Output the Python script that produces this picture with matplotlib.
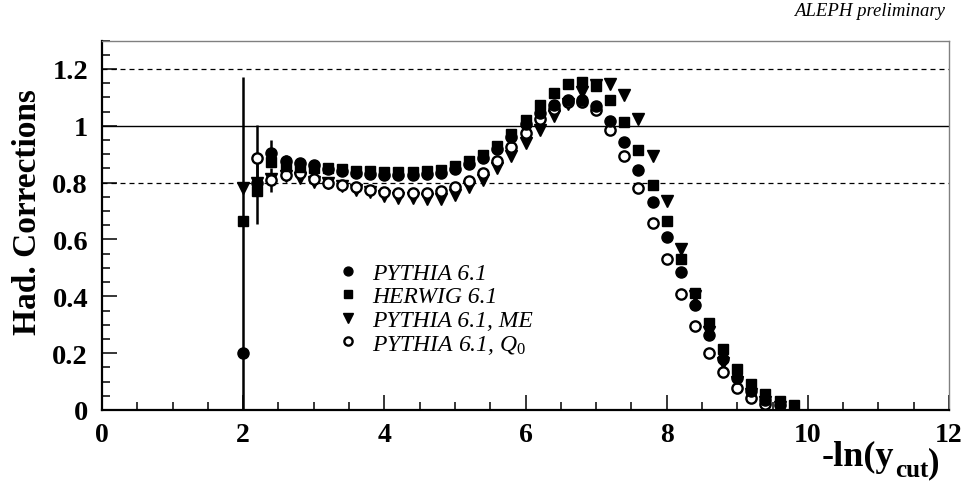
import numpy as np
import matplotlib
matplotlib.use('Agg')
import matplotlib.pyplot as plt
from matplotlib.ticker import MultipleLocator, FixedLocator, FixedFormatter

plt.rcParams['font.family'] = ['Liberation Serif', 'DejaVu Serif']
plt.rcParams['mathtext.fontset'] = 'custom'
plt.rcParams['mathtext.rm'] = 'Liberation Serif'
plt.rcParams['mathtext.it'] = 'Liberation Serif:italic'
plt.rcParams['mathtext.bf'] = 'Liberation Serif:bold'

nan = np.nan
# -ln(y_cut) bin positions
x_vals = [2.0, 2.2, 2.4, 2.6, 2.8, 3.0, 3.2, 3.4, 3.6, 3.8,
          4.0, 4.2, 4.4, 4.6, 4.8, 5.0, 5.2, 5.4, 5.6, 5.8,
          6.0, 6.2, 6.4, 6.6, 6.8, 7.0, 7.2, 7.4, 7.6, 7.8,
          8.0, 8.2, 8.4, 8.6, 8.8, 9.0, 9.2, 9.4, 9.6, 9.8]

pythia = [0.200, 0.800, 0.904, 0.877, 0.869, 0.862, 0.848, 0.840, 0.834, 0.831,
          0.828, 0.828, 0.828, 0.832, 0.834, 0.848, 0.866, 0.888, 0.920, 0.962,
          1.005, 1.045, 1.074, 1.089, 1.089, 1.068, 1.018, 0.942, 0.846, 0.731,
          0.609, 0.485, 0.369, 0.263, 0.179, 0.113, 0.068, 0.036, 0.018, nan]
pythia_err = [0.97, nan, 0.045, 0.02, nan, nan, nan, nan, nan, nan,
              nan, nan, nan, nan, nan, nan, nan, nan, nan, nan,
              nan, nan, nan, nan, nan, nan, nan, nan, nan, nan,
              nan, nan, nan, nan, nan, nan, nan, nan, nan, nan]

herwig = [0.666, 0.770, 0.874, 0.857, 0.854, 0.850, 0.853, 0.848, 0.842, 0.840,
          0.837, 0.836, 0.837, 0.840, 0.843, 0.857, 0.875, 0.898, 0.930, 0.972,
          1.019, 1.074, 1.115, 1.146, 1.154, 1.140, 1.091, 1.015, 0.916, 0.793,
          0.664, 0.532, 0.413, 0.305, 0.216, 0.145, 0.092, 0.055, 0.030, 0.018]
herwig_err = [nan, 0.115, nan, nan, nan, nan, nan, nan, nan, nan,
              nan, nan, nan, nan, nan, nan, nan, nan, nan, nan,
              nan, nan, nan, nan, nan, nan, nan, nan, nan, nan,
              nan, nan, nan, nan, nan, nan, nan, nan, nan, nan]

pythia_me = [0.780, 0.800, 0.812, 0.822, 0.815, 0.803, 0.797, 0.788, 0.775, 0.766,
             0.752, 0.747, 0.746, 0.742, 0.742, 0.758, 0.784, 0.810, 0.851, 0.892,
             0.939, 0.986, 1.033, 1.078, 1.120, 1.145, 1.147, 1.109, 1.025, 0.895,
             0.736, 0.565, 0.400, 0.275, 0.165, 0.100, 0.055, 0.028, 0.012, nan]

pythia_q0 = [nan, 0.886, 0.810, 0.828, 0.834, 0.814, 0.800, 0.792, 0.783, 0.775,
             0.767, 0.763, 0.765, 0.764, 0.772, 0.784, 0.805, 0.834, 0.875, 0.925,
             0.974, 1.023, 1.060, 1.085, 1.082, 1.054, 0.986, 0.892, 0.781, 0.659,
             0.533, 0.407, 0.294, 0.200, 0.132, 0.078, 0.043, 0.021, nan, nan]
pythia_q0_err = [nan, 0.118, 0.043, nan, nan, nan, nan, nan, nan, nan,
                 nan, nan, nan, nan, nan, nan, nan, nan, nan, nan,
                 nan, nan, nan, nan, nan, nan, nan, nan, nan, nan,
                 nan, nan, nan, nan, nan, nan, nan, nan, nan, nan]

labels = ['PYTHIA 6.1', 'HERWIG 6.1', 'PYTHIA 6.1, ME', r'PYTHIA 6.1, $Q_{\mathit{0}}$']
ref_lines_dashed = [0.8, 1.2]
ref_line_solid = 1.0
xtick_vals = [0, 2, 4, 6, 8, 10, 12]
xtick_labels = ['0', '2', '4', '6', '8', '10', '12']
ytick_vals = [0, 0.2, 0.4, 0.6, 0.8, 1.0, 1.2]
ytick_labels = ['0', '0.2', '0.4', '0.6', '0.8', '1', '1.2']

W, H = 965, 485
fig = plt.figure(figsize=(W / 100, H / 100), dpi=100)
ax = fig.add_axes([102 / W, 74 / H, 847 / W, 369.5 / H])
ax.set_xlim(0, 12)
ax.set_ylim(0, 1.3)

# reference lines
ax.axhline(ref_line_solid, color='black', lw=1.0, zorder=1)
for yv in ref_lines_dashed:
    ax.axhline(yv, color='black', lw=0.9, ls=(0, (4.0, 3.2)), zorder=1)

xa = np.array(x_vals)
# error bars
for yv, ev in [(pythia, pythia_err), (herwig, herwig_err), (pythia_q0, pythia_q0_err)]:
    ax.errorbar(xa, yv, yerr=ev, fmt='none', ecolor='black', elinewidth=1.8,
                capsize=0, zorder=2)

h_me, = ax.plot(xa, pythia_me, ls='none', marker='v', ms=8.2, color='black',
                mec='black', zorder=3)
h_q0, = ax.plot(xa, pythia_q0, ls='none', marker='o', ms=7.4, mfc='white',
                mec='black', mew=1.7, zorder=4)
h_hw, = ax.plot(xa, herwig, ls='none', marker='s', ms=7.0, color='black', zorder=5)
h_py, = ax.plot(xa, pythia, ls='none', marker='o', ms=8.0, color='black', zorder=6)

leg = ax.legend([h_py, h_hw, h_me, h_q0], labels, loc='center left',
                bbox_to_anchor=(0.277, 0.273), frameon=False,
                prop={'family': 'Liberation Serif', 'style': 'italic', 'size': 17},
                handlelength=1.0, handletextpad=0.5, labelspacing=0.08,
                borderpad=0.0, borderaxespad=0.0, markerscale=0.8)

# ticks
ax.xaxis.set_major_locator(FixedLocator(xtick_vals))
ax.xaxis.set_major_formatter(FixedFormatter(xtick_labels))
ax.xaxis.set_minor_locator(MultipleLocator(0.5))
ax.yaxis.set_major_locator(FixedLocator(ytick_vals))
ax.yaxis.set_major_formatter(FixedFormatter(ytick_labels))
ax.yaxis.set_minor_locator(MultipleLocator(0.05))
ax.tick_params(which='both', direction='in', top=False, right=False, color='black')
ax.tick_params(which='major', length=10.5, width=1.1)
ax.tick_params(which='minor', length=5.5, width=1.1)
ax.tick_params(axis='x', which='major', pad=8.5, labelsize=20)
ax.tick_params(axis='y', which='major', pad=10, labelsize=20.5)
for lab in ax.get_xticklabels() + ax.get_yticklabels():
    lab.set_fontweight('bold')

for side in ['left', 'bottom']:
    ax.spines[side].set_linewidth(1.6)
    ax.spines[side].set_color('black')
for side in ['top', 'right']:
    ax.spines[side].set_linewidth(1.0)
    ax.spines[side].set_color('#808080')

fig.text(28 / W, 1 - 212 / H, 'Had. Corrections', rotation=90, ha='center',
         va='center', fontsize=24, fontweight='bold')
fig.text(945 / W, 1 - 12 / H, 'ALEPH preliminary', ha='right', va='center',
         fontsize=13.5, style='italic')

# x-axis title  -ln(y_cut)  built from three pieces
t1 = fig.text(822 / W, 1 - 466 / H, '-ln(y', ha='left', va='baseline',
              fontsize=26, fontweight='bold')
fig.canvas.draw()
r = fig.canvas.get_renderer()
bb1 = t1.get_window_extent(r)
t2 = fig.text((bb1.x1 + 1) / W, 1 - 477 / H, 'cut', ha='left', va='baseline',
              fontsize=18, fontweight='bold')
bb2 = t2.get_window_extent(r)
fig.text((bb2.x1 - 1) / W, 1 - 472 / H, ')', ha='left', va='baseline',
         fontsize=25, fontweight='bold')

fig.savefig('out.png', dpi=100)
